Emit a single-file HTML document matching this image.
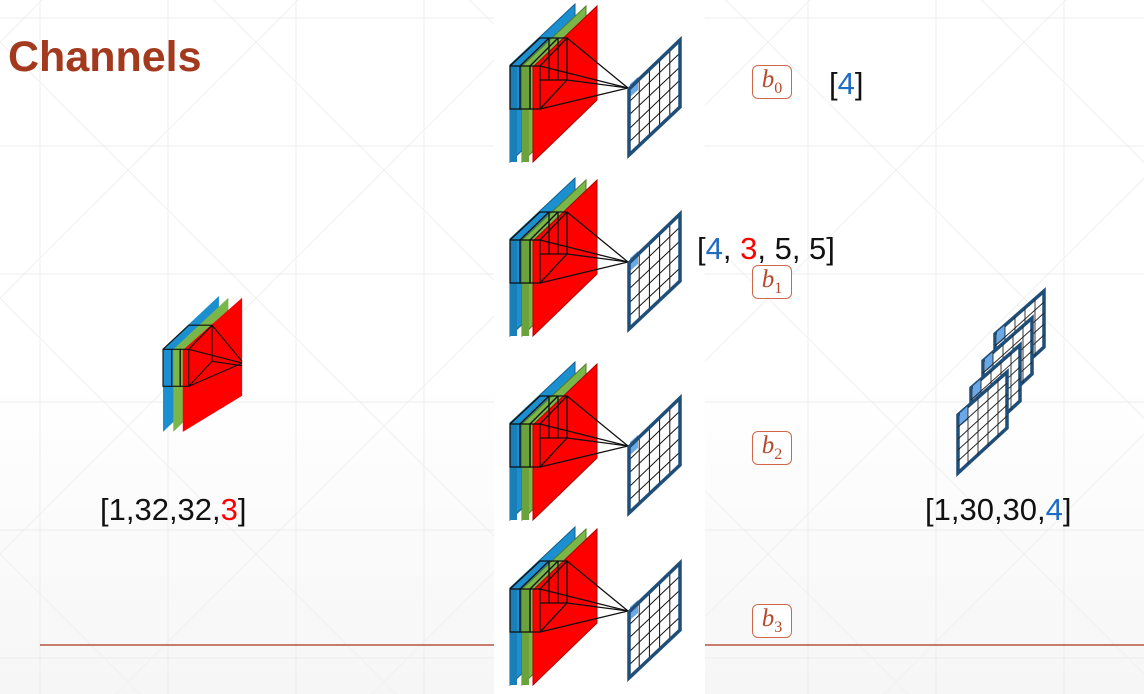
<!DOCTYPE html>
<html><head><meta charset="utf-8"><style>
html,body{margin:0;padding:0;overflow:hidden;}
body{width:1144px;height:694px;overflow:hidden;position:relative;background:linear-gradient(#ffffff 0%,#ffffff 55%,#f6f6f6 100%);font-family:"Liberation Sans",sans-serif;}
.t{position:absolute;white-space:nowrap;font-size:31px;color:#111;line-height:1;}
.b{color:#1f6cc4}.r{color:#ff0000}
.bias{position:absolute;width:40px;height:34px;border:1.3px solid #d0664a;border-radius:6px;background:#fff;box-sizing:border-box;font-family:"Liberation Serif",serif;font-style:italic;color:#b5482a;font-size:25px;text-align:center;line-height:28px;}
.bias sub{font-size:16px;font-style:normal;}
</style></head><body>
<svg width="1144" height="694" style="position:absolute;left:0;top:0;overflow:hidden">
<defs>
<g id="conv">
  <polygon points="510,65 575,4 575,100 510,162" fill="#1b8fd0" stroke="#0f5f8a" stroke-width="1"/>
  <polygon points="510,65 517,65 517,162 510,162" fill="#1a7fb8"/>
  <polygon points="522,66 586,6 586,100 522,162" fill="#7ab648" stroke="#4f7d22" stroke-width="1"/>
  <polygon points="522,66 529,66 529,162 522,162" fill="#6aa23c"/>
  <polygon points="533,67 597,6 597,100 533,162" fill="#ff0000" stroke="#b00000" stroke-width="1"/>
  <g fill="none" stroke="#111" stroke-width="1.3">
    <rect x="510" y="66" width="10" height="43"/><rect x="520" y="66" width="10" height="43"/><rect x="530" y="66" width="10" height="43"/>
    <polyline points="510,66 540,38 567,38 567,80 540,109"/>
    <line x1="520" y1="66" x2="549" y2="38"/><line x1="530" y1="66" x2="558" y2="38"/><line x1="540" y1="66" x2="567" y2="38"/>
    <line x1="549" y1="38" x2="549" y2="80"/><line x1="558" y1="38" x2="558" y2="80"/>
    <line x1="540" y1="80" x2="567" y2="80"/>
    <line x1="567" y1="38" x2="628" y2="88"/><line x1="567" y1="80" x2="628" y2="88"/>
    <line x1="540" y1="66" x2="628" y2="88"/><line x1="540" y1="109" x2="628" y2="88"/>
  </g>
  <polygon points="629,89 680,40 680,107 629,155" fill="#fff"/>
  <polygon points="630,84 638,77 638,90 630,97" fill="#6aa8e8"/>
  <g stroke="#111" stroke-width="1">
    <line x1="639.2" y1="80" x2="639.2" y2="146"/><line x1="649.4" y1="70" x2="649.4" y2="136"/><line x1="659.6" y1="60" x2="659.6" y2="126"/><line x1="669.8" y1="50" x2="669.8" y2="117"/>
    <line x1="629" y1="102" x2="680" y2="53"/><line x1="629" y1="115" x2="680" y2="67"/><line x1="629" y1="129" x2="680" y2="80"/><line x1="629" y1="142" x2="680" y2="94"/>
  </g>
  <polygon points="629,89 680,40 680,107 629,155" fill="none" stroke="#1f4e79" stroke-width="3.5"/>
</g>
<g id="fmap">
  <polygon points="958,415 1007,372 1007,428 958,473" fill="#fff" stroke="#1f4e79" stroke-width="3.5"/>
  <polygon points="960,413 968,406 968,420 960,426" fill="#6aa8e8"/>
  <g stroke="#222" stroke-width="0.9">
    <line x1="968" y1="406" x2="968" y2="464"/><line x1="978" y1="398" x2="978" y2="455"/><line x1="988" y1="389" x2="988" y2="446"/><line x1="998" y1="380" x2="998" y2="437"/>
    <line x1="958" y1="427" x2="1007" y2="383"/><line x1="958" y1="439" x2="1007" y2="394"/><line x1="958" y1="450" x2="1007" y2="405"/><line x1="958" y1="461" x2="1007" y2="416"/>
  </g>
</g>
</defs>
<g stroke="#ececec" stroke-width="1">
  <line x1="40" y1="0" x2="40" y2="694"/><line x1="168" y1="0" x2="168" y2="694"/><line x1="296" y1="0" x2="296" y2="694"/><line x1="424" y1="0" x2="424" y2="694"/><line x1="552" y1="0" x2="552" y2="694"/><line x1="680" y1="0" x2="680" y2="694"/><line x1="808" y1="0" x2="808" y2="694"/><line x1="936" y1="0" x2="936" y2="694"/><line x1="1064" y1="0" x2="1064" y2="694"/>
  <line x1="0" y1="18" x2="1144" y2="18"/><line x1="0" y1="146" x2="1144" y2="146"/><line x1="0" y1="274" x2="1144" y2="274"/><line x1="0" y1="402" x2="1144" y2="402"/><line x1="0" y1="530" x2="1144" y2="530"/><line x1="0" y1="658" x2="1144" y2="658"/>
</g>
<g stroke="#f1f1f1" stroke-width="1">
  <line x1="-1000" y1="-958" x2="1000" y2="1042"/><line x1="-744" y1="-958" x2="1256" y2="1042"/><line x1="-488" y1="-958" x2="1512" y2="1042"/><line x1="-232" y1="-958" x2="1768" y2="1042"/><line x1="24" y1="-958" x2="2024" y2="1042"/><line x1="-1256" y1="-958" x2="744" y2="1042"/><line x1="-1512" y1="-958" x2="488" y2="1042"/>
  <line x1="1000" y1="-958" x2="-1000" y2="1042"/><line x1="1256" y1="-958" x2="-744" y2="1042"/><line x1="1512" y1="-958" x2="-488" y2="1042"/><line x1="1768" y1="-958" x2="-232" y2="1042"/><line x1="2024" y1="-958" x2="24" y2="1042"/><line x1="2280" y1="-958" x2="280" y2="1042"/><line x1="2536" y1="-958" x2="536" y2="1042"/>
</g>
<line x1="40" y1="645" x2="1144" y2="645" stroke="#b5553e" stroke-width="1.5"/>
<rect x="494" y="0" width="211" height="694" fill="#fff"/>
<use href="#conv"/>
<use href="#conv" y="174"/>
<use href="#conv" y="358"/>
<use href="#conv" y="523"/>
<g transform="translate(163,296) scale(0.86) translate(-510,-4)">
  <polygon points="510,65 575,4 575,100 510,162" fill="#1b8fd0"/>
  <polygon points="522,66 586,6 586,100 522,162" fill="#7ab648"/>
  <polygon points="533,67 602,6 602,120 533,162" fill="#ff0000"/>
  <g fill="none" stroke="#111" stroke-width="1.3">
    <rect x="510" y="66" width="10" height="43"/><rect x="520" y="66" width="10" height="43"/><rect x="530" y="66" width="10" height="43"/>
    <polyline points="510,66 540,38 567,38 567,80 540,109"/>
    <line x1="540" y1="66" x2="567" y2="38"/>
    <line x1="567" y1="38" x2="602" y2="80"/><line x1="567" y1="80" x2="602" y2="85"/><line x1="540" y1="109" x2="602" y2="82"/><line x1="540" y1="66" x2="602" y2="82"/>
  </g>
</g>
<g>
  <use href="#fmap" x="37" y="-81"/><use href="#fmap" x="25" y="-54"/><use href="#fmap" x="13" y="-27"/><use href="#fmap"/>
</g>
</svg>
<div class="t" style="left:8px;top:36px;font-size:43px;font-weight:bold;color:#a33a1e">Channels</div>
<div class="bias" style="left:752px;top:65px">b<sub>0</sub></div>
<div class="bias" style="left:752px;top:265px">b<sub>1</sub></div>
<div class="bias" style="left:752px;top:431px">b<sub>2</sub></div>
<div class="bias" style="left:752px;top:604px">b<sub>3</sub></div>
<div class="t" style="left:829px;top:68px">[<span class="b">4</span>]</div>
<div class="t" style="left:697px;top:233px">[<span class="b">4</span>, <span class="r">3</span>, 5, 5]</div>
<div class="t" style="left:100px;top:494px">[1,32,32,<span class="r">3</span>]</div>
<div class="t" style="left:925px;top:494px">[1,30,30,<span class="b">4</span>]</div>
</body></html>
